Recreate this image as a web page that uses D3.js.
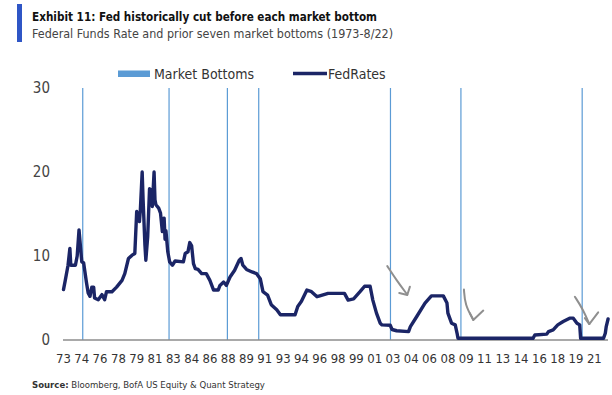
<!DOCTYPE html>
<html lang="en">
<head>
  <meta charset="UTF-8" />
  <title>Fed historically cut before each market bottom</title>
  <script src="https://d3js.org/d3.v7.min.js"></script>
  <style>
    body {
      margin: 0;
      padding: 0;
      background: #fff;
    }
    svg text {
      font-family: "Liberation Sans Narrow", "DejaVu Sans Condensed", "Liberation Sans", sans-serif;
      fill: #333;
    }
    .title {
      font-weight: bold;
      font-size: 13px;
      fill: #111;
    }
    .subtitle {
      font-size: 13px;
      fill: #444;
    }
    .tick-label {
      font-size: 13px;
      fill: #333;
    }
    .legend-label {
      font-size: 14px;
      fill: #333;
    }
    .source {
      font-size: 9.5px;
      fill: #333;
    }
  </style>
</head>
<body>
  <svg width="612" height="395"></svg>
  <script>
    // Fed funds rate (monthly-ish points)
    const rateMonths = [
      "1973-01", "1973-03", "1973-06", "1973-08", "1973-09", "1974-02", "1974-04", "1974-06",
      "1974-09", "1974-11", "1975-02", "1975-04", "1975-06", "1975-08", "1975-10", "1975-11",
      "1976-03", "1976-07", "1976-10", "1976-12", "1977-06", "1977-11", "1978-05", "1978-08",
      "1978-12", "1979-04", "1979-07", "1979-09", "1979-12", "1980-01", "1980-03", "1980-04",
      "1980-06", "1980-07", "1980-09", "1980-11", "1981-01", "1981-02", "1981-04", "1981-05",
      "1981-06", "1981-09", "1981-11", "1982-01", "1982-03", "1982-04", "1982-05", "1982-07",
      "1982-09", "1982-12", "1983-03", "1983-12", "1984-02", "1984-05", "1984-07", "1984-09",
      "1984-11", "1985-01", "1985-04", "1985-08", "1986-01", "1986-05", "1986-09", "1987-02",
      "1987-04", "1987-08", "1987-11", "1988-03", "1988-08", "1989-01", "1989-03", "1989-05",
      "1989-09", "1990-03", "1990-08", "1990-12", "1991-03", "1991-08", "1991-12", "1992-06",
      "1992-10", "1994-02", "1994-05", "1994-09", "1995-03", "1995-08", "1996-02", "1996-05",
      "1997-02", "1998-08", "1998-12", "1999-06", "2000-01", "2000-06", "2000-12", "2001-03",
      "2001-07", "2001-11", "2002-01", "2002-10", "2002-12", "2003-05", "2004-06", "2004-08",
      "2005-03", "2005-12", "2006-07", "2007-08", "2007-12", "2008-01", "2008-05", "2008-09",
      "2008-11", "2008-12", "2015-10", "2015-12", "2017-01", "2017-03", "2017-08", "2018-01",
      "2018-07", "2019-02", "2019-06", "2019-10", "2020-01", "2020-02", "2022-03", "2022-05",
      "2022-06", "2022-08"
    ];
    const rateValues = [
      6.0, 7.1, 8.9, 10.9, 8.9, 8.9, 10.0, 13.1,
      9.3, 9.2, 6.9, 5.6, 5.2, 6.3, 6.3, 5.0,
      4.8, 5.4, 4.8, 5.75, 5.75, 6.3, 7.1, 7.9,
      9.7, 10.1, 10.3, 15.3, 14.1, 15.5, 20.0, 16.7,
      11.3, 9.5, 12.3, 18.0, 17.8, 15.9, 20.0, 16.7,
      16.1, 15.7, 15.1, 12.9, 14.5, 12.0, 13.0, 10.5,
      9.3, 8.9, 9.4, 9.3, 10.3, 10.5, 11.6, 11.2,
      9.1, 8.5, 8.4, 7.9, 7.9, 7.1, 5.95, 5.95,
      6.5, 6.9, 6.5, 7.5, 8.3, 9.5, 9.7, 8.9,
      8.4, 8.1, 7.9, 7.3, 5.75, 5.35, 4.2, 3.6,
      3.0, 3.0, 4.0, 4.6, 5.95, 5.75, 5.15, 5.25,
      5.55, 5.55, 4.75, 4.9, 5.75, 6.4, 6.4, 4.75,
      3.2, 2.0, 1.8, 1.75, 1.25, 1.1, 1.0, 1.6,
      2.8, 4.4, 5.25, 5.25, 4.4, 3.2, 2.0, 1.8,
      0.8, 0.2, 0.2, 0.6, 0.7, 1.0, 1.2, 1.8,
      2.2, 2.6, 2.6, 2.0, 1.8, 0.2, 0.2, 0.8,
      1.6, 2.5
    ];

    // prior seven market bottoms
    const marketBottoms = [
      "1974-10-03", "1982-08-12", "1987-12-04", "1990-10-11",
      "2002-10-09", "2009-03-09", "2020-03-23"
    ];

    // category labels every 20 months starting Jan 1973
    const tickLabels = [
      "73", "74", "76", "78", "79", "81", "83", "84", "86", "88",
      "89", "91", "93", "94", "96", "98", "99", "01", "03", "04",
      "06", "08", "09", "11", "13", "14", "16", "18", "19", "21"
    ];
    const yTicks = [0, 10, 20, 30];

    // hand-drawn arrows: [year, value] points; shaft then head
    const arrowShafts = [
      [[2002.48, 8.8], [2003.33, 7.1], [2004.3, 5.4]],
      [[2009.46, 6.0], [2009.55, 4.2], [2010.31, 2.4]],
      [[2019.56, 5.15], [2020.32, 3.6], [2020.87, 1.9]]
    ];
    const arrowHeads = [
      [[2003.57, 5.6], [2004.3, 5.36], [2004.54, 6.35]],
      [[2010.0, 3.2], [2010.31, 2.38], [2011.22, 3.5]],
      [[2020.47, 2.6], [2020.87, 1.9], [2021.68, 3.3]]
    ];

    const navy = "#1b2566";
    const lightBlue = "#5b9bd5";

    const svg = d3.select("svg");
    const parseMonth = d3.timeParse("%Y-%m");
    const parseDay = d3.timeParse("%Y-%m-%d");

    const x = d3.scaleTime()
      .domain([new Date(1973, 0, 1), new Date(2022, 8, 1)])
      .range([63.5, 609]);
    const y = d3.scaleLinear().domain([0, 30]).range([340, 88]);

    function fromYear(yr) {
      const whole = Math.floor(yr);
      const start = new Date(whole, 0, 1);
      const end = new Date(whole + 1, 0, 1);
      return new Date(+start + (yr - whole) * (end - start));
    }

    // header
    svg.append("rect")
      .attr("x", 17).attr("y", 4)
      .attr("width", 5).attr("height", 38)
      .attr("fill", "#2f56c6");
    svg.append("text")
      .attr("class", "title")
      .attr("x", 32).attr("y", 20.5)
      .attr("textLength", 345)
      .attr("lengthAdjust", "spacingAndGlyphs")
      .text("Exhibit 11: Fed historically cut before each market bottom");
    svg.append("text")
      .attr("class", "subtitle")
      .attr("x", 32).attr("y", 38)
      .attr("textLength", 361)
      .attr("lengthAdjust", "spacingAndGlyphs")
      .text("Federal Funds Rate and prior seven market bottoms (1973-8/22)");

    // legend
    const legend = svg.append("g");
    legend.append("rect")
      .attr("x", 118).attr("y", 70.5)
      .attr("width", 32).attr("height", 6.5)
      .attr("fill", lightBlue);
    legend.append("text")
      .attr("class", "legend-label")
      .attr("x", 154).attr("y", 78.5)
      .text("Market Bottoms");
    legend.append("line")
      .attr("x1", 293).attr("x2", 327)
      .attr("y1", 73.5).attr("y2", 73.5)
      .attr("stroke", navy).attr("stroke-width", 3.4);
    legend.append("text")
      .attr("class", "legend-label")
      .attr("x", 328).attr("y", 78.5)
      .text("FedRates");

    // y tick labels (no axis line)
    svg.append("g")
      .selectAll("text")
      .data(yTicks)
      .join("text")
      .attr("class", "tick-label")
      .attr("x", 50)
      .attr("y", d => y(d))
      .attr("dy", "0.35em")
      .attr("text-anchor", "end")
      .style("font-size", "15px")
      .style("fill", "#444")
      .text(d => d);

    // market bottom verticals
    svg.append("g")
      .selectAll("line")
      .data(marketBottoms)
      .join("line")
      .attr("x1", d => x(parseDay(d)))
      .attr("x2", d => x(parseDay(d)))
      .attr("y1", y(30))
      .attr("y2", y(0))
      .attr("stroke", lightBlue)
      .attr("stroke-width", 1.2);

    // x axis baseline
    svg.append("line")
      .attr("x1", 63).attr("x2", 608)
      .attr("y1", y(0)).attr("y2", y(0))
      .attr("stroke", "#8c8c8c")
      .attr("stroke-width", 1.5);

    // x tick labels
    const tickDates = tickLabels.map((_, i) => d3.timeMonth.offset(new Date(1973, 0, 1), i * 20));
    svg.append("g")
      .selectAll("text")
      .data(tickDates)
      .join("text")
      .attr("class", "tick-label")
      .attr("x", d => x(d))
      .attr("y", 363)
      .attr("text-anchor", "middle")
      .text((d, i) => tickLabels[i]);

    // fed funds line
    const rates = rateMonths.map((m, i) => ({ date: parseMonth(m), value: rateValues[i] }));
    const line = d3.line()
      .x(d => x(d.date))
      .y(d => y(d.value));
    svg.append("path")
      .datum(rates)
      .attr("d", line)
      .attr("fill", "none")
      .attr("stroke", navy)
      .attr("stroke-width", 3.4)
      .attr("stroke-linejoin", "round")
      .attr("stroke-linecap", "round");

    // annotation arrows
    const arrowLine = d3.line()
      .x(d => x(fromYear(d[0])))
      .y(d => y(d[1]));
    const shaftLine = d3.line()
      .x(d => x(fromYear(d[0])))
      .y(d => y(d[1]))
      .curve(d3.curveBasis);
    arrowShafts.forEach((shaft, i) => {
      svg.append("path")
        .attr("d", shaftLine([shaft[0], shaft[0], shaft[1], shaft[2], shaft[2]]))
        .attr("fill", "none")
        .attr("stroke", "#8f8f8f")
        .attr("stroke-width", 2)
        .attr("stroke-linecap", "round");
      svg.append("path")
        .attr("d", arrowLine(arrowHeads[i]))
        .attr("fill", "none")
        .attr("stroke", "#8f8f8f")
        .attr("stroke-width", 2)
        .attr("stroke-linecap", "round")
        .attr("stroke-linejoin", "round");
    });

    // source
    const source = svg.append("text")
      .attr("class", "source")
      .attr("x", 32).attr("y", 388);
    source.append("tspan").style("font-weight", "bold").text("Source:");
    source.append("tspan").text("  Bloomberg, BofA US Equity & Quant Strategy");
  </script>
</body>
</html>
